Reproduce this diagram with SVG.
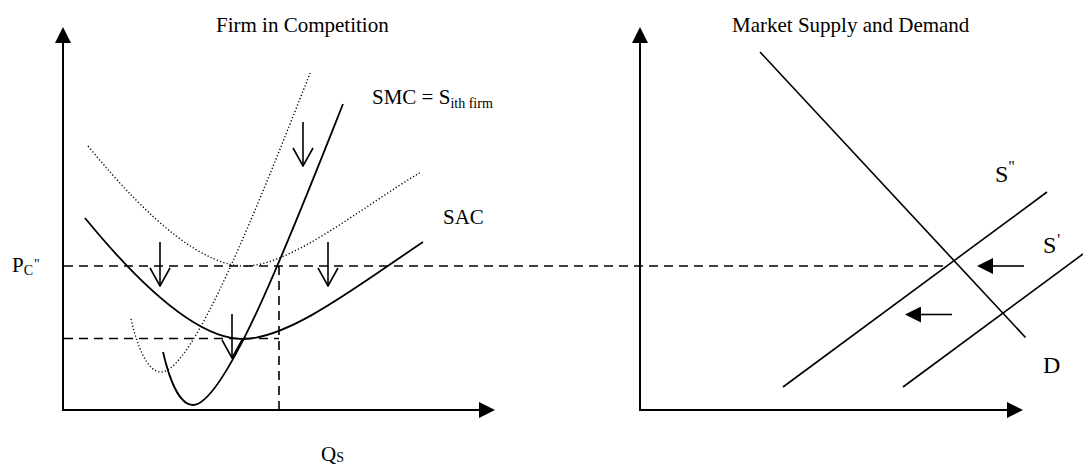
<svg xmlns="http://www.w3.org/2000/svg" width="1083" height="464" viewBox="0 0 1083 464">
<style>
text{font-family:"Liberation Serif","Times New Roman",serif;fill:#000}
.t{font-size:21px}
.big{font-size:24px}
.sub{font-size:14px}
.axis{stroke:#000;stroke-width:2;fill:none}
.solid{stroke:#000;stroke-width:1.8;fill:none}
.line{stroke:#000;stroke-width:1.6;fill:none}
.dot{stroke:#000;stroke-width:1.4;fill:none;stroke-dasharray:1.2 2.2}
.dash{stroke:#000;stroke-width:1.6;fill:none;stroke-dasharray:9 6}
.arr{stroke:#000;stroke-width:1.6;fill:none}
</style>
<defs>
<marker id="fill" markerUnits="userSpaceOnUse" viewBox="0 0 16 16" markerWidth="16" markerHeight="16" refX="1" refY="8" orient="auto">
<path d="M0,0 L16,8 L0,16 z" fill="#000"/>
</marker>
<marker id="open" markerUnits="userSpaceOnUse" viewBox="0 0 20 24" markerWidth="20" markerHeight="24" refX="19" refY="12" orient="auto">
<path d="M1,2 L19,12 L1,22" fill="none" stroke="#000" stroke-width="1.6"/>
</marker>
</defs>

<g id="left-axes">
<line class="axis" x1="63" y1="410" x2="63" y2="42" marker-end="url(#fill)"/>
<line class="axis" x1="62" y1="410" x2="480" y2="410" marker-end="url(#fill)"/>
</g>
<g id="right-axes">
<line class="axis" x1="640" y1="410" x2="640" y2="42" marker-end="url(#fill)"/>
<line class="axis" x1="639" y1="410" x2="1008" y2="410" marker-end="url(#fill)"/>
</g>

<g id="guides">
<line class="dash" x1="64" y1="266" x2="947" y2="266"/>
<line class="dash" x1="64" y1="338.5" x2="279" y2="338.5"/>
<line class="dash" x1="279" y1="266" x2="279" y2="410"/>
</g>

<g id="curves">
<path id="sac" class="solid" d="M85,218 Q184,339 243,339 C290,339 363,282 423,242"/>
<path id="sac-old" class="dot" d="M88,146 Q186,266 245,266 C291,266 362,207 421,172"/>
<path id="smc" class="solid" d="M163,352 C169,378 179,405 193,405 C225,405 290,238 343,104"/>
<path id="smc-old" class="dot" d="M163,352 C169,378 179,405 193,405 C225,405 290,238 343,104" transform="translate(-32,-33)"/>
<line id="demand" class="line" x1="760" y1="52" x2="1025.5" y2="337.5"/>
<line id="supply2" class="line" x1="783" y1="387" x2="1047" y2="192"/>
<line id="supply1" class="line" x1="903" y1="387" x2="1083" y2="254"/>
</g>

<g id="connectors">
<line class="arr" x1="303" y1="122" x2="303" y2="166" marker-end="url(#open)"/>
<line class="arr" x1="160" y1="242" x2="160" y2="286" marker-end="url(#open)"/>
<line class="arr" x1="328" y1="242" x2="328" y2="286" marker-end="url(#open)"/>
<line class="arr" x1="232" y1="314" x2="232" y2="358" marker-end="url(#open)"/>
<line class="arr" x1="1024" y1="266" x2="992" y2="266" marker-end="url(#fill)"/>
<line class="arr" x1="952" y1="314.5" x2="920" y2="314.5" marker-end="url(#fill)"/>
</g>

<g id="labels">
<text class="t" x="216" y="32">Firm in Competition</text>
<text class="t" x="732" y="32">Market Supply and Demand</text>
<text class="t" x="372" y="104">SMC = S<tspan class="sub" dy="4">ith firm</tspan></text>
<text class="t" x="443" y="224">SAC</text>
<text class="t" x="12" y="272">P<tspan class="sub" dy="3">C</tspan><tspan class="sub" dx="1" dy="-6">"</tspan></text>
<text class="t" x="321" y="461">Q<tspan class="sub" dy="1">S</tspan></text>
<text class="big" x="995" y="182">S<tspan font-size="16" dx="0" dy="-10">"</tspan></text>
<text class="big" x="1043" y="253">S<tspan font-size="16" dx="1" dy="-8">'</tspan></text>
<text class="big" x="1043" y="373">D</text>
</g>
</svg>
